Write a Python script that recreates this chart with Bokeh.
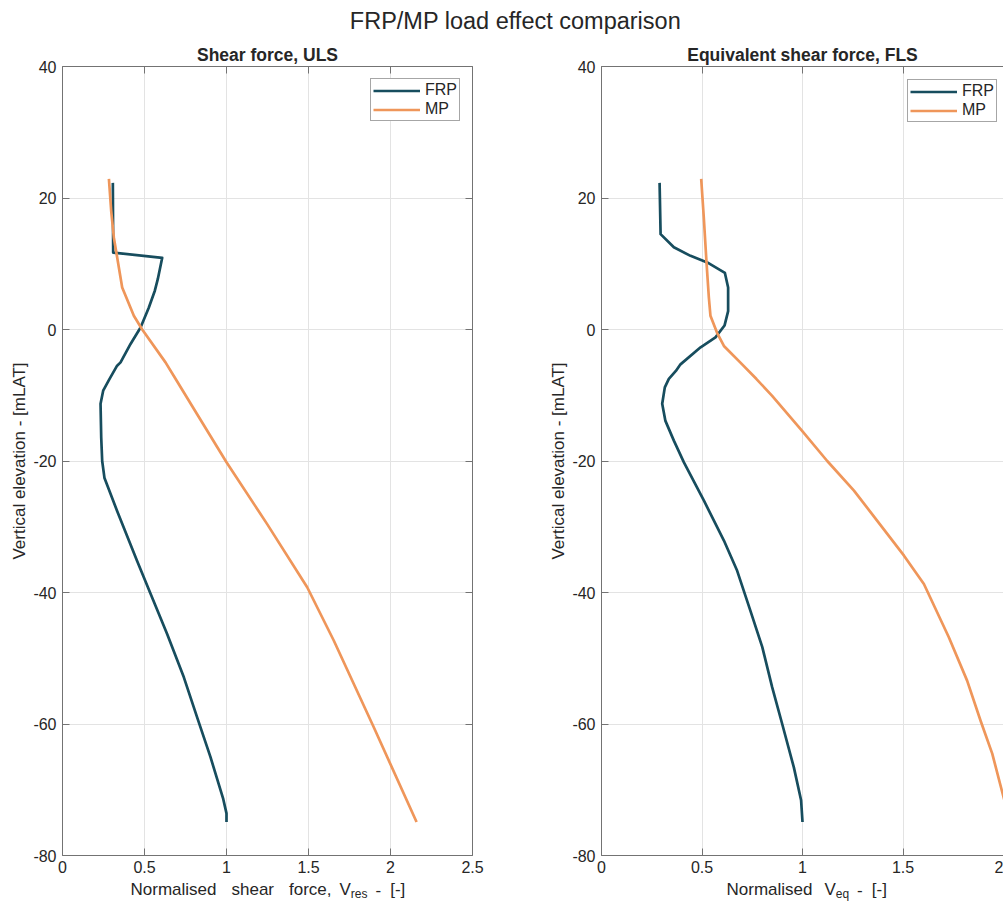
from bokeh.plotting import figure
from bokeh.models import (Range1d, LinearAxis, CustomJSTickFormatter, Label,
                          Legend, LegendItem)
from bokeh.layouts import row, column
from bokeh.embed import file_html
from bokeh.resources import INLINE

# ---------------- data ----------------
uls_frp_elev = [22.3, 11.7, 10.9, 7.65, 5.9, 3.3, 0.3, -2.2, -5.0, -5.5, -7.5, -9.3, -11.3,
                -16.4, -20.0, -22.6, -27.6, -35.2, -40.2, -46.3, -52.9, -59.0, -65.0,
                -71.4, -73.6, -74.9]
uls_frp_val = [0.307, 0.309, 0.608, 0.581, 0.563, 0.526, 0.476, 0.415, 0.354, 0.333, 0.287,
               0.248, 0.232, 0.236, 0.242, 0.256, 0.333, 0.455, 0.537, 0.638, 0.740, 0.821,
               0.902, 0.980, 1.000, 1.000]

uls_mp_elev = [22.9, 18.0, 14.0, 6.4, 2.1, 0.0, -5.0, -7.5, -12.9, -20.2, -29.6, -39.2,
               -47.3, -60.5, -74.9]
uls_mp_val = [0.283, 0.297, 0.313, 0.364, 0.435, 0.486, 0.628, 0.689, 0.821, 1.000, 1.248,
              1.492, 1.654, 1.898, 2.159]

fls_frp_elev = [22.3, 14.5, 12.5, 11.2, 10.2, 8.6, 6.4, 2.8, 0.6, -1.2, -2.7, -5.3, -6.3,
                -7.5, -8.8, -11.3, -13.9, -16.9, -20.2, -26.0, -32.1, -36.7, -42.8, -48.3,
                -54.4, -60.0, -66.6, -71.6, -74.9]
fls_frp_val = [0.289, 0.294, 0.360, 0.443, 0.526, 0.614, 0.630, 0.630, 0.612, 0.567, 0.493,
               0.393, 0.370, 0.335, 0.315, 0.302, 0.318, 0.360, 0.410, 0.509, 0.609, 0.675,
               0.741, 0.800, 0.849, 0.899, 0.957, 0.993, 1.000]

fls_mp_elev = [22.9, 17.0, 10.4, 4.9, 2.1, -0.5, -2.5, -5.0, -7.5, -10.1, -15.4, -20.0,
               -24.5, -29.1, -34.4, -38.7, -46.8, -53.4, -59.5, -64.5, -71.1, -74.9]
fls_mp_val = [0.496, 0.509, 0.522, 0.534, 0.542, 0.575, 0.609, 0.690, 0.770, 0.849, 0.998,
              1.123, 1.256, 1.372, 1.505, 1.604, 1.728, 1.819, 1.886, 1.944, 2.000, 2.035]

x_ticks = [0, 0.5, 1, 1.5, 2, 2.5]
y_ticks = [-80, -60, -40, -20, 0, 20, 40]

main_title = "FRP/MP load effect comparison"
titles = ["Shear force, ULS", "Equivalent shear force, FLS"]
ylabel = "Vertical elevation - [mLAT]"
series_names = ["FRP", "MP"]
# x-axis labels: (text, left x in page px, subscript?)  -- TeX-like spacing
xlabel_left = [("Normalised", 130, False), ("shear", 231, False), ("force,", 288.5, False),
               ("V", 339, False), ("res", 350.3, True), ("-", 375, False),
               ("[-]", 389.7, False)]
xlabel_right = [("Normalised", 726, False), ("V", 824, False), ("eq", 835.3, True),
                ("-", 856.6, False), ("[-]", 871.3, False)]

# ---------------- style ----------------
FONT = "Liberation Sans"
FRP_COLOR = "#174d5e"
MP_COLOR = "#ef965a"
AXIS_COLOR = "#737373"
GRID_COLOR = "#e3e3e3"
TEXT_COLOR = "#262626"
LW = 2.7
PAGE_W = 1003
TOP_H = 40
BOT_H = 23

num_fmt = CustomJSTickFormatter(code="return tick.toString();")
empty_fmt = CustomJSTickFormatter(code="return '';")


def style_axis(ax, labels=True, standoff=6):
    ax.axis_line_color = AXIS_COLOR
    ax.axis_line_width = 1
    ax.major_tick_line_color = AXIS_COLOR
    ax.major_tick_in = 7
    ax.major_tick_out = 0
    ax.minor_tick_line_color = None
    ax.minor_tick_in = 0
    ax.minor_tick_out = 0
    if labels:
        ax.formatter = num_fmt
        ax.major_label_text_font = FONT
        ax.major_label_text_font_size = "16px"
        ax.major_label_text_color = TEXT_COLOR
        ax.major_label_standoff = standoff
    else:
        ax.formatter = empty_fmt
        ax.major_label_text_font_size = "0px"
        ax.major_label_standoff = 0


def make_panel(width, border_left, border_right, x_end, with_right_axis, title, offset):
    p = figure(width=width, height=839, title=title,
               x_range=Range1d(0, x_end), y_range=Range1d(-80, 40),
               output_backend="svg", toolbar_location=None,
               min_border_left=border_left, min_border_right=border_right,
               min_border_top=26, min_border_bottom=24)
    p.title.align = "center"
    p.title.offset = offset
    p.title.standoff = 3
    p.title.text_font = FONT
    p.title.text_font_size = "17.5px"
    p.title.text_font_style = "bold"
    p.title.text_color = TEXT_COLOR
    p.outline_line_color = None
    p.background_fill_color = "white"
    p.border_fill_color = "white"
    p.xaxis.ticker = x_ticks
    p.yaxis.ticker = y_ticks
    p.xgrid.ticker = x_ticks
    p.ygrid.ticker = y_ticks
    p.grid.grid_line_color = GRID_COLOR
    p.grid.grid_line_width = 1
    for ax in p.xaxis:
        style_axis(ax, True, 5)
    for ax in p.yaxis:
        style_axis(ax, True, 6)
    p.yaxis.axis_label = ylabel
    p.yaxis.axis_label_text_font = FONT
    p.yaxis.axis_label_text_font_size = "17px"
    p.yaxis.axis_label_text_font_style = "normal"
    p.yaxis.axis_label_text_color = TEXT_COLOR
    p.yaxis.axis_label_standoff = 1
    top = LinearAxis(ticker=x_ticks)
    style_axis(top, False)
    p.add_layout(top, "above")
    if with_right_axis:
        right = LinearAxis(ticker=y_ticks)
        style_axis(right, False)
        p.add_layout(right, "right")
    return p


def add_lines(p, frp_x, frp_y, mp_x, mp_y):
    r1 = p.line(frp_x, frp_y, line_color=FRP_COLOR, line_width=LW, line_join="round")
    r2 = p.line(mp_x, mp_y, line_color=MP_COLOR, line_width=LW, line_join="round")
    return [r1, r2]


def add_legend(p, renderers, location, margin):
    leg = Legend(items=[LegendItem(label=series_names[0], renderers=[renderers[0]]),
                        LegendItem(label=series_names[1], renderers=[renderers[1]])],
                 location=location, margin=margin, padding=2, spacing=1,
                 glyph_width=47, glyph_height=17, label_height=17, label_standoff=5,
                 label_text_font=FONT, label_text_font_size="16px",
                 label_text_color=TEXT_COLOR,
                 border_line_color="#4d4d4d", border_line_width=1,
                 background_fill_color="white", background_fill_alpha=1.0)
    p.add_layout(leg, "center")


def text_strip(height):
    s = figure(width=PAGE_W, height=height, x_range=Range1d(0, PAGE_W),
               y_range=Range1d(0, height), output_backend="svg", toolbar_location=None,
               min_border=0, x_axis_location=None, y_axis_location=None)
    s.grid.visible = False
    s.outline_line_color = None
    s.background_fill_color = "white"
    s.border_fill_color = "white"
    return s


def add_text(p, x, y, text, size, bold=False, align="center"):
    p.add_layout(Label(x=x, y=y, text=text, text_font=FONT, text_font_size=size,
                       text_font_style="bold" if bold else "normal",
                       text_color=TEXT_COLOR, text_align=align, text_baseline="middle"))


# ---------------- header strip: figure title ----------------
top_strip = text_strip(TOP_H)
add_text(top_strip, 515, TOP_H - 20, main_title, "23.5px")

# ---------------- left panel (ULS) ----------------
p1 = make_panel(537, 62, 65, 2.5, True, titles[0], 0)
r = add_lines(p1, uls_frp_val, uls_frp_elev, uls_mp_val, uls_mp_elev)
add_legend(p1, r, "top_right", 12)

# ---------------- right panel (FLS) ----------------
p2 = make_panel(466, 64, 0, 2.0, False, titles[1], 4)
r = add_lines(p2, fls_frp_val, fls_frp_elev, fls_mp_val, fls_mp_elev)
add_legend(p2, r, (306, 733), 0)

# ---------------- footer strip: x-axis labels with subscripts ----------------
bot_strip = text_strip(BOT_H)
for parts in (xlabel_left, xlabel_right):
    for txt, xpos, sub in parts:
        if sub:
            add_text(bot_strip, xpos, 9, txt, "12px", align="left")
        else:
            add_text(bot_strip, xpos, 13, txt, "17px", align="left")

layout = column(top_strip, row(p1, p2, spacing=0), bot_strip, spacing=0)

with open("out.html", "w") as f:
    f.write(file_html(layout, INLINE, title="FRP/MP load effect comparison"))
